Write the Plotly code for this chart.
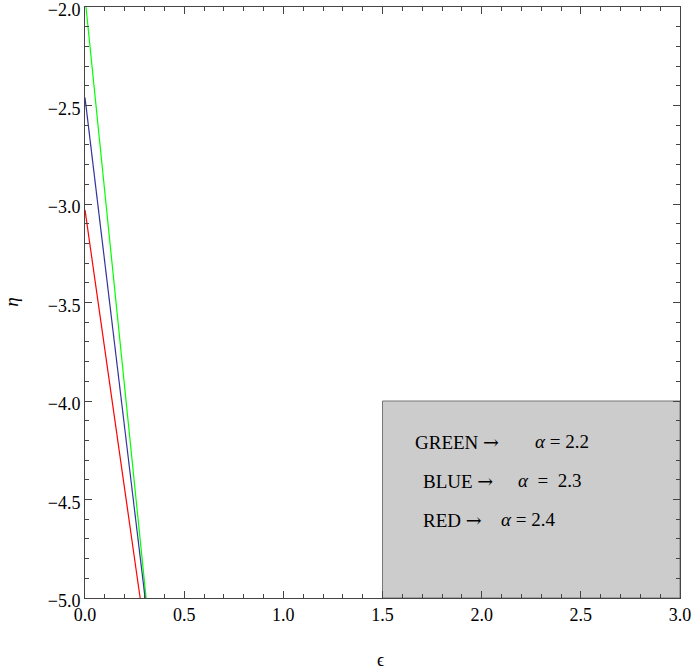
import plotly.graph_objects as go

# Data (start and end of each curve)
eps_green = [0.005, 0.308]
eta_green = [-2.0, -5.0]
eps_blue = [0.0, 0.303]
eta_blue = [-2.46, -5.0]
eps_red = [0.0, 0.278]
eta_red = [-3.03, -5.0]

x_ticks = [0.0, 0.5, 1.0, 1.5, 2.0, 2.5, 3.0]
x_tick_labels = ["0.0", "0.5", "1.0", "1.5", "2.0", "2.5", "3.0"]
y_ticks = [-5.0, -4.5, -4.0, -3.5, -3.0, -2.5, -2.0]
y_tick_labels = ["\u22125.0", "\u22124.5", "\u22124.0", "\u22123.5", "\u22123.0", "\u22122.5", "\u22122.0"]

ARROW = "<span style='font-family:DejaVu Serif'>\u2192</span>"
legend_left = ["GREEN " + ARROW, "BLUE " + ARROW, "RED " + ARROW]
legend_right = ["<i>\u03b1</i> = 2.2", "<i>\u03b1</i>  =  2.3", "<i>\u03b1</i> = 2.4"]

font_family = "Liberation Serif"

fig = go.Figure()
fig.add_trace(go.Scatter(x=eps_green, y=eta_green, mode="lines", line=dict(color="#00ff00", width=1.2), showlegend=False))
fig.add_trace(go.Scatter(x=eps_blue, y=eta_blue, mode="lines", line=dict(color="#3333a0", width=1.2), showlegend=False))
fig.add_trace(go.Scatter(x=eps_red, y=eta_red, mode="lines", line=dict(color="#ff0000", width=1.2), showlegend=False))

fig.add_shape(type="rect", x0=1.5, x1=3.0, y0=-5.0, y1=-4.0, xref="x", yref="y",
              fillcolor="#cccccc", line=dict(color="#777777", width=1), layer="below")

# annotations inside the box
ann_y = [-4.208, -4.406, -4.604]
left_x = [1.654, 1.694, 1.694]
right_x = [2.259, 2.173, 2.087]
for lt, rt, yy, lx, rx in zip(legend_left, legend_right, ann_y, left_x, right_x):
    fig.add_annotation(x=lx, y=yy, text=lt, showarrow=False, xanchor="left", yanchor="middle",
                       font=dict(family=font_family, size=19, color="black"))
    fig.add_annotation(x=rx, y=yy, text=rt, showarrow=False, xanchor="left", yanchor="middle",
                       font=dict(family=font_family, size=19, color="black"))

# axis titles
fig.add_annotation(x=0.497, y=-0.105, xref="paper", yref="paper", text="\u03f5", showarrow=False,
                   xanchor="center", yanchor="middle", font=dict(family=font_family, size=18, color="black"))
fig.add_annotation(x=-0.124, y=0.5, xref="paper", yref="paper", text="<i>\u03b7</i>", showarrow=False,
                   textangle=-90, xanchor="center", yanchor="middle",
                   font=dict(family=font_family, size=19, color="black"))

axis_common = dict(
    showgrid=False, zeroline=False, showline=True, linecolor="#444444", linewidth=1,
    mirror="allticks", ticks="inside", ticklen=7, tickwidth=1, tickcolor="#444444",
    tickfont=dict(family=font_family, size=18, color="black"), automargin=False,
    ticklabeloverflow="allow",
)

fig.update_xaxes(range=[0, 3.0], tickmode="array", tickvals=x_ticks, ticktext=x_tick_labels,
                 minor=dict(dtick=0.1, tick0=0, ticks="inside", ticklen=4, tickwidth=1, tickcolor="#444444"),
                 **axis_common)
fig.update_yaxes(range=[-5.0, -2.0], tickmode="array", tickvals=y_ticks, ticktext=y_tick_labels,
                 ticklabelshift=3,
                 minor=dict(dtick=0.1, tick0=-5, ticks="inside", ticklen=4, tickwidth=1, tickcolor="#444444"),
                 **axis_common)

fig.update_layout(
    width=691, height=670,
    margin=dict(l=85, r=11, t=7, b=72, autoexpand=False),
    paper_bgcolor="white", plot_bgcolor="white",
)

fig.write_html("out.html", config={"displayModeBar": False},
               post_script="document.body.style.margin='0';document.body.style.overflow='hidden';")
